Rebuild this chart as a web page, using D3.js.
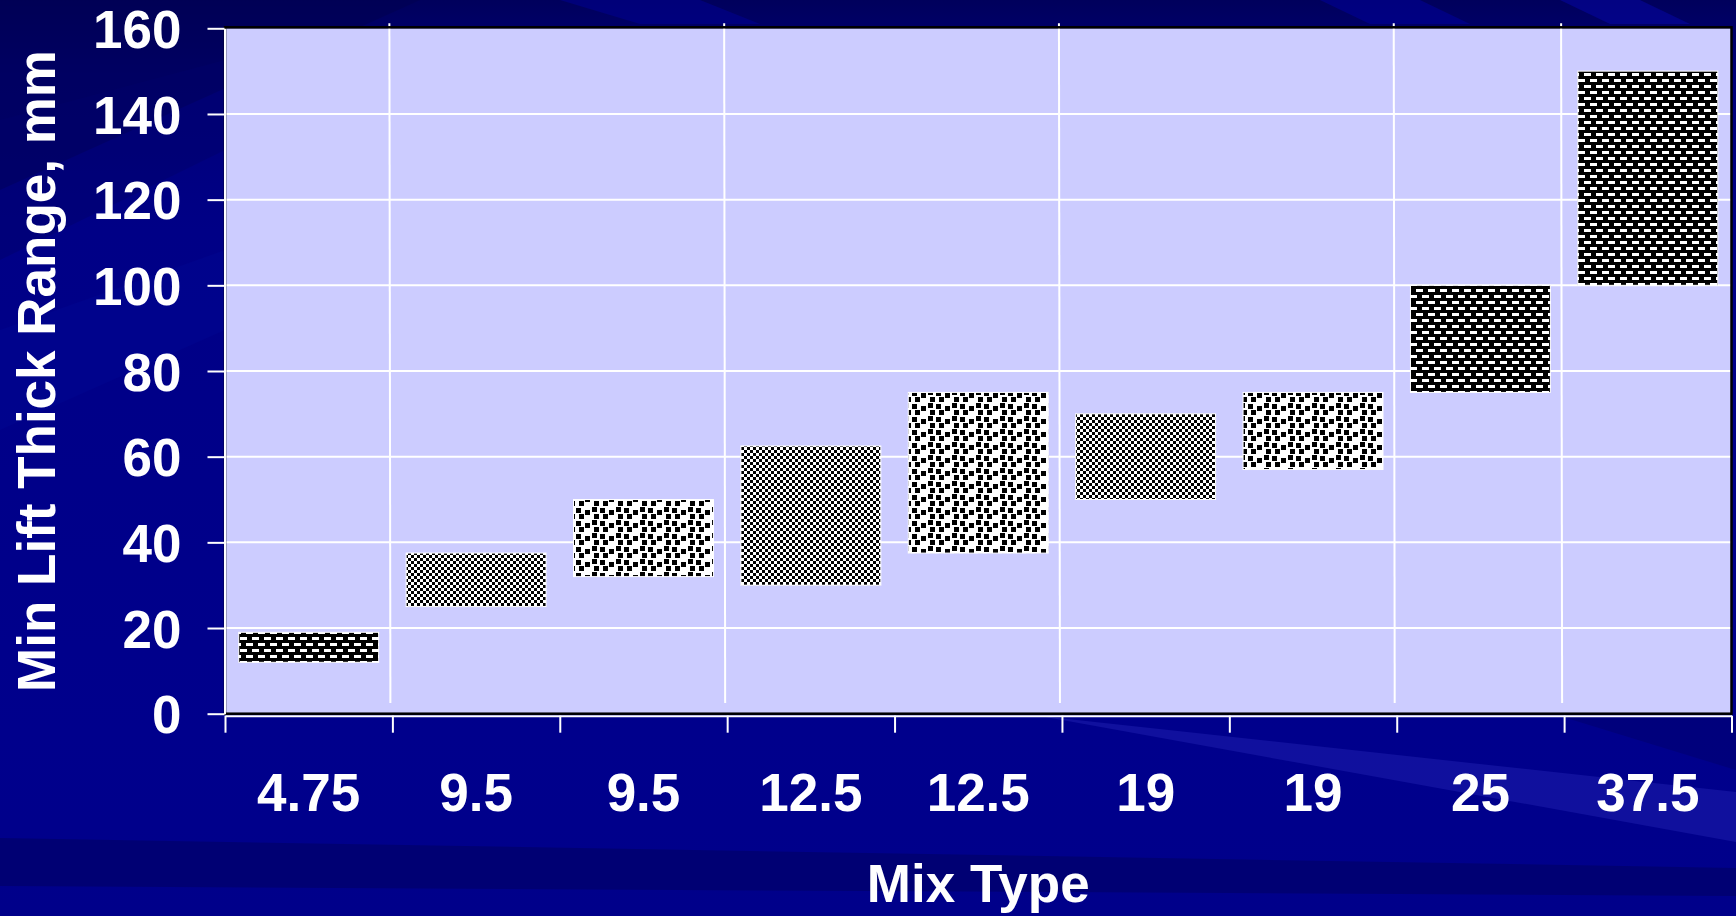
<!DOCTYPE html>
<html>
<head>
<meta charset="utf-8">
<script src="https://cdn.jsdelivr.net/npm/d3@7"></script>
<style>
  html, body { margin: 0; padding: 0; background: #000088; overflow: hidden; }
  svg { display: block; }
  text { font-family: "Liberation Sans", Arial, Helvetica, sans-serif; font-weight: bold; fill: #fff; }
</style>
</head>
<body>
<svg id="chart" width="1736" height="916"></svg>
<script>
// Nominal maximum aggregate size of each mix (mm)
const mixTypes = ["4.75", "9.5", "9.5", "12.5", "12.5", "19", "19", "25", "37.5"];
// Minimum lift thickness range (mm): lower and upper bound per mix
const rangeLow  = [12, 25, 32, 30, 37.5, 50, 57, 75, 100];
const rangeHigh = [19, 37.5, 50, 62.5, 75, 70, 75, 100, 150];
// Value-axis ticks
const yTicks = [0, 20, 40, 60, 80, 100, 120, 140, 160];

// Fill pattern used by each floating bar
const barFills = ["dash", "check", "confetti", "check", "confetti", "check", "confetti", "dash", "dash"];

const W = 1736, H = 916;
const plot = { left: 225, right: 1731.5, top: 28.3, bottom: 713.7 };
const FONT = 53;

const svg = d3.select("#chart");
const defs = svg.append("defs");

// ---------- slide background ----------
const bg = defs.append("linearGradient").attr("id", "bgGrad")
  .attr("x1", 0).attr("y1", 0).attr("x2", 0).attr("y2", 1);
[[0, "#00005c"], [0.08, "#000078"], [0.25, "#000086"], [0.8, "#00008c"], [1, "#00008a"]]
  .forEach(([o, c]) => bg.append("stop").attr("offset", o).attr("stop-color", c));
svg.append("rect").attr("width", W).attr("height", H).attr("fill", "url(#bgGrad)");

const bgShapes = [
  { pts: [[0, 0], [420, 0], [0, 190]], fill: "#000050", op: 0.55 },
  { pts: [[0, 120], [225, 60], [225, 150], [0, 260]], fill: "#00006a", op: 0.45 },
  { pts: [[0, 330], [225, 250], [225, 330], [0, 430]], fill: "#000a96", op: 0.35 },
  { pts: [[560, 0], [700, 0], [760, 24], [640, 24]], fill: "#000096", op: 0.5 },
  { pts: [[1320, 0], [1420, 0], [1470, 24], [1370, 24]], fill: "#0000a0", op: 0.5 },
  { pts: [[1560, 0], [1640, 0], [1690, 24], [1610, 24]], fill: "#0505aa", op: 0.5 },
  { pts: [[0, 838], [1736, 868], [1736, 896], [0, 886]], fill: "#000060", op: 0.55 },
  { pts: [[1040, 716], [1736, 792], [1736, 842]], fill: "#2424b4", op: 0.45 },
  { pts: [[1560, 716], [1736, 716], [1736, 770]], fill: "#00006c", op: 0.5 }
];
svg.append("g").selectAll("polygon").data(bgShapes).join("polygon")
  .attr("points", d => d.pts.map(p => p.join(",")).join(" "))
  .attr("fill", d => d.fill).attr("opacity", d => d.op);

// ---------- fill patterns ----------
function pattern(id, w, h, bgColor, fg, rects) {
  const p = defs.append("pattern").attr("id", id)
    .attr("patternUnits", "userSpaceOnUse").attr("width", w).attr("height", h);
  p.append("rect").attr("width", w).attr("height", h).attr("fill", bgColor);
  rects.forEach(r => p.append("rect")
    .attr("x", r[0]).attr("y", r[1]).attr("width", r[2]).attr("height", r[3])
    .attr("fill", fg).attr("shape-rendering", "crispEdges"));
}
pattern("check", 6, 6, "#ffffff", "#000000", [[0, 0, 3, 3], [3, 3, 3, 3]]);
pattern("dash", 12, 12, "#000000", "#ffffff", [[0, 1, 7, 3], [6, 7, 7, 3], [-6, 7, 7, 3]]);
pattern("confetti", 24, 13, "#ffffff", "#000000",
  [[0, 1, 5, 5], [9, 3, 5, 5], [16, 0, 5, 5], [3, 7, 5, 5], [18, 7, 5, 5]]);

// ---------- scales ----------
const x = d3.scaleBand().domain(d3.range(mixTypes.length))
  .range([plot.left, plot.right]).paddingInner(0.164).paddingOuter(0.082);
const xb = d3.scaleLinear().domain([0, mixTypes.length]).range([plot.left, plot.right]);
const y = d3.scaleLinear().domain([0, 160]).range([plot.bottom, plot.top]);

// ---------- plot area ----------
svg.append("rect")
  .attr("x", plot.left).attr("y", plot.top)
  .attr("width", plot.right - plot.left).attr("height", plot.bottom - plot.top)
  .attr("fill", "#ccccff");

// horizontal gridlines
svg.append("g").selectAll("line").data(yTicks.filter(t => t > 0 && t < 160)).join("line")
  .attr("x1", plot.left).attr("x2", plot.right)
  .attr("y1", d => y(d)).attr("y2", d => y(d))
  .attr("stroke", "#ffffff").attr("stroke-width", 2);

// separators between mix sizes
const seps = d3.range(1, mixTypes.length).filter(i => mixTypes[i] !== mixTypes[i - 1]);
svg.append("g").selectAll("line").data(seps).join("line")
  .attr("x1", i => xb(i) - 3).attr("x2", i => xb(i) - 2)
  .attr("y1", plot.top - 5).attr("y2", y(2.5))
  .attr("stroke", "#ffffff").attr("stroke-width", 2);

// floating range bars
svg.append("g").selectAll("rect").data(d3.range(mixTypes.length)).join("rect")
  .attr("x", i => x(i)).attr("width", x.bandwidth())
  .attr("y", i => y(rangeHigh[i]))
  .attr("height", i => y(rangeLow[i]) - y(rangeHigh[i]))
  .attr("fill", i => `url(#${barFills[i]})`)
  .attr("stroke", "#ffffff").attr("stroke-width", 1);

// plot frame
svg.append("rect")
  .attr("x", plot.left).attr("y", plot.top - 1)
  .attr("width", plot.right - plot.left).attr("height", plot.bottom - plot.top + 1)
  .attr("fill", "none").attr("stroke", "#000000").attr("stroke-width", 2.5);

// ---------- axes ----------
const yAxis = svg.append("g").attr("transform", `translate(${plot.left - 0.5},0)`)
  .call(d3.axisLeft(y).tickValues(yTicks).tickSize(17).tickPadding(26).tickSizeOuter(0));
yAxis.select(".domain").attr("stroke", "#ffffff").attr("stroke-width", 2);
yAxis.selectAll(".tick line").attr("stroke", "#ffffff").attr("stroke-width", 2);
yAxis.selectAll(".tick text").attr("font-size", FONT).attr("fill", "#fff")
  .attr("font-family", null).attr("dy", "0.36em");

const xTicks = svg.append("g").attr("transform", `translate(0,${plot.bottom + 2})`)
  .call(d3.axisBottom(xb).tickValues(d3.range(mixTypes.length + 1)).tickSize(17).tickFormat("").tickSizeOuter(0));
xTicks.select(".domain").attr("stroke", "#ffffff").attr("stroke-width", 2);
xTicks.selectAll(".tick line").attr("stroke", "#ffffff").attr("stroke-width", 2);

const xLabels = svg.append("g").attr("transform", `translate(0,${plot.bottom + 2})`)
  .call(d3.axisBottom(x).tickSize(0).tickPadding(58).tickFormat(i => mixTypes[i]));
xLabels.select(".domain").remove();
xLabels.selectAll(".tick text").attr("font-size", FONT).attr("fill", "#fff").attr("font-family", null);

// ---------- axis titles ----------
svg.append("text")
  .attr("x", (plot.left + plot.right) / 2).attr("y", 902)
  .attr("text-anchor", "middle").attr("font-size", FONT)
  .text("Mix Type");

svg.append("text")
  .attr("transform", `translate(55,${(plot.top + plot.bottom) / 2}) rotate(-90)`)
  .attr("text-anchor", "middle").attr("font-size", FONT)
  .text("Min Lift Thick Range, mm");
</script>
</body>
</html>
